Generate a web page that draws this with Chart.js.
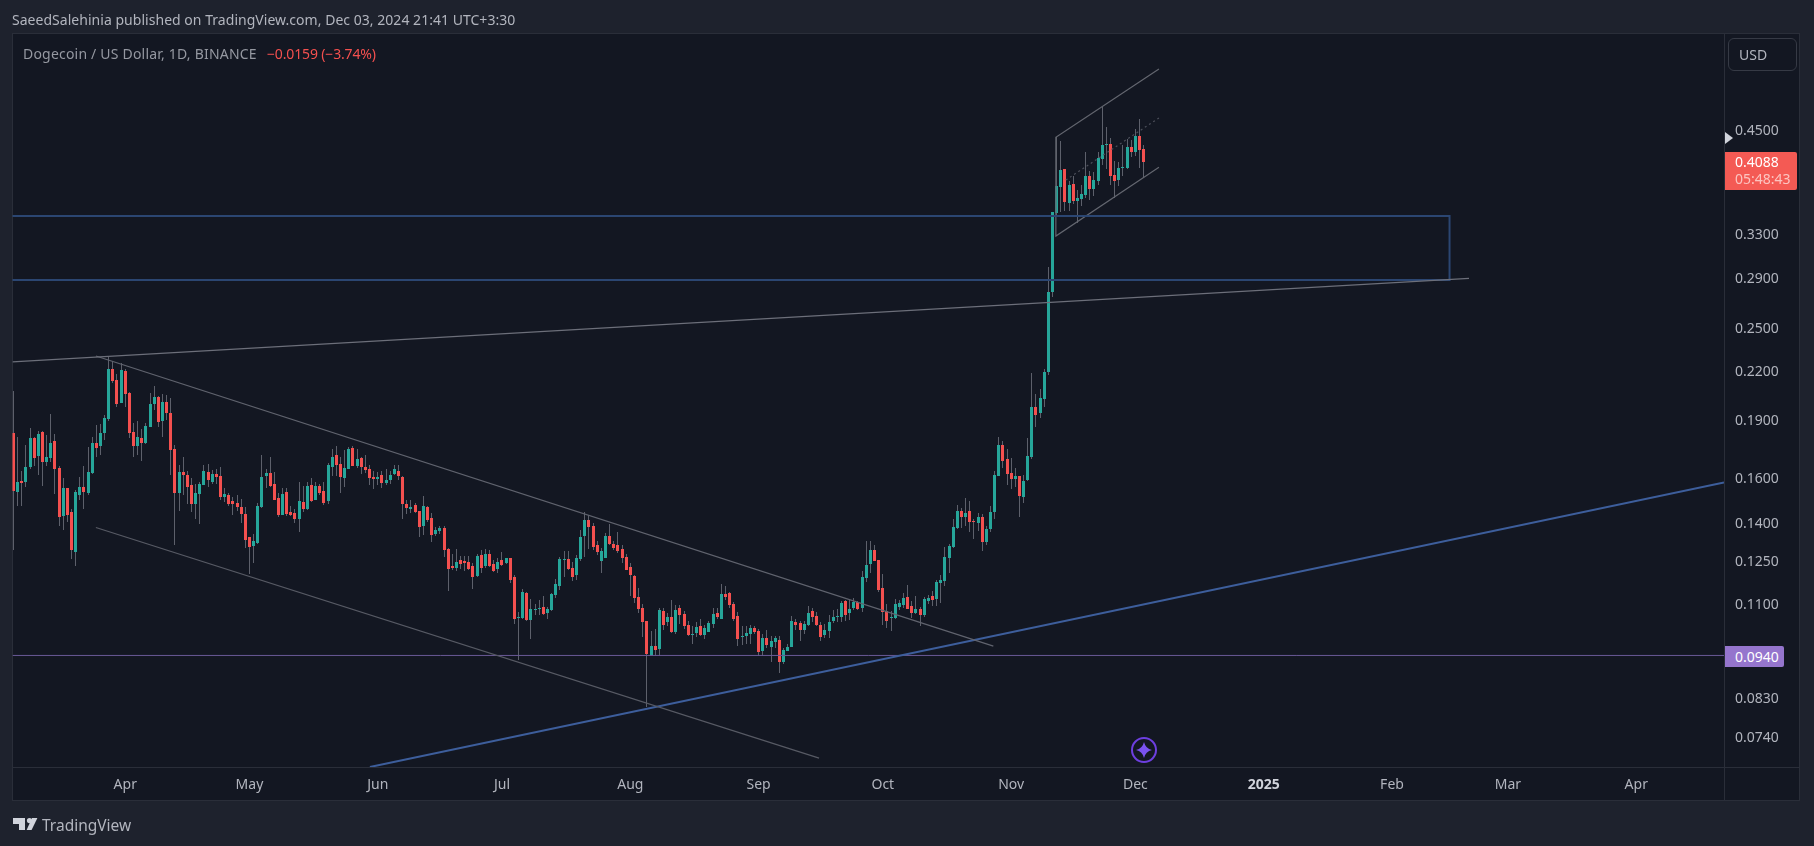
<!DOCTYPE html>
<html><head><meta charset="utf-8">
<script src="https://cdn.jsdelivr.net/npm/chart.js@4"></script>
<style>
html,body{margin:0;padding:0;background:#1e222d;width:1814px;height:846px;overflow:hidden;font-family:"Noto Sans",sans-serif}
.a{position:absolute;white-space:nowrap}
canvas{position:absolute;left:0;top:0}
</style></head><body>
<div class="a" style="left:12px;top:33px;width:1788px;height:768px;background:#131722;box-sizing:border-box;border:1px solid #2a2e39"></div>
<div class="a" style="left:12px;top:767px;width:1788px;height:1px;background:#2a2e39"></div>
<div class="a" style="left:1724px;top:33px;width:1px;height:768px;background:#2a2e39"></div>
<canvas id="c" width="1814" height="846" style="width:1814px;height:846px"></canvas>
<div class="a" style="left:12px;top:10px;font-size:14px;line-height:20px;color:#b2b5be;letter-spacing:.03px">SaeedSalehinia published on TradingView.com, Dec 03, 2024 21:41 UTC+3:30</div>
<div class="a" style="left:23px;top:44px;font-size:14px;line-height:20px;color:#9598a1;letter-spacing:.2px">Dogecoin / US Dollar, 1D, BINANCE</div>
<div class="a" style="left:267px;top:44px;font-size:14px;line-height:20px;color:#f4504f;letter-spacing:-.15px">−0.0159 (−3.74%)</div>
<div class="a" style="left:1728px;top:38px;width:69px;height:33px;box-sizing:border-box;border:1px solid #363a45;border-radius:6px;color:#b2b5be;font-size:14px;line-height:31px;padding-left:10px">USD</div>
<svg class="a" style="left:1725px;top:130px" width="10" height="16"><polygon points="0,2 8,8 0,14" fill="#d1d4dc"/></svg>
<div class="a" style="left:1725px;top:152px;width:72px;height:38px;background:#f45a54;border-radius:0 2px 2px 0"></div>
<div class="a" style="left:1735px;top:153px;font-size:14px;line-height:18px;color:#fff">0.4088</div>
<div class="a" style="left:1735px;top:170px;font-size:14px;line-height:18px;color:#fcc4c0">05:48:43</div>
<div class="a" style="left:1725px;top:646px;width:59px;height:21px;background:#9575cd;border-radius:0 2px 2px 0;color:#fff;font-size:14px;line-height:21px;padding-left:10px;box-sizing:border-box">0.0940</div>
<svg class="a" style="left:1128px;top:734px" width="32" height="32"><circle cx="16" cy="16" r="12" fill="#131722" stroke="#6d3fe0" stroke-width="2"/><path d="M16 8 Q17.5 14.5 24 16 Q17.5 17.5 16 24 Q14.5 17.5 8 16 Q14.5 14.5 16 8Z" fill="#7a52f0"/></svg>
<svg class="a" style="left:12px;top:816px" width="28" height="16"><path d="M1 2H13V14H7V8H1Z" fill="#d1d4dc"/><circle cx="17.5" cy="4.6" r="2.6" fill="#d1d4dc"/><path d="M19.6 14H14.6L20 2H25.4Z" fill="#d1d4dc"/></svg>
<div class="a" style="left:42px;top:814px;font-size:15.5px;line-height:22px;color:#b2b5be">TradingView</div>
<script>
const opens=[.1827,.1534,.1585,.1581,.1653,.1802,.1707,.1834,.1677,.1697,
.1786,.1648,.1428,.1552,.1446,.1283,.1520,.1558,.1529,.1622,
.1775,.1759,.1829,.1905,.2212,.2140,.1999,.2199,.2059,.1834,
.1759,.1802,.1775,.1862,.1993,.2035,.1894,.2005,.1941,.1743,
.1529,.1628,.1614,.1567,.1480,.1525,.1567,.1628,.1581,.1619,
.1609,.1512,.1520,.1494,.1485,.1467,.1437,.1342,.1307,.1318,
.1467,.1609,.1622,.1571,.1507,.1432,.1534,.1446,.1441,.1416,
.1489,.1458,.1567,.1498,.1562,.1538,.1494,.1653,.1712,.1667,
.1600,.1643,.1748,.1658,.1697,.1653,.1643,.1604,.1595,.1614,
.1576,.1590,.1619,.1633,.1604,.1480,.1458,.1476,.1450,.1387,
.1467,.1420,.1354,.1366,.1379,.1295,.1231,.1224,.1253,.1249,
.1246,.1231,.1195,.1272,.1231,.1276,.1239,.1221,.1253,.1242,
.1260,.1192,.1055,.1055,.1136,.1049,.1080,.1083,.1090,.1071,
.1080,.1130,.1159,.1253,.1257,.1224,.1199,.1257,.1346,.1412,
.1387,.1310,.1249,.1260,.1346,.1314,.1310,.1295,.1264,.1228,
.1195,.1123,.1087,.1046,.0942,.0971,.0962,.1077,.1043,.1058,
.1012,.1087,.1068,.1033,.1003,.1009,.1030,.1003,.1012,.1037,
.1071,.1052,.1133,.1136,.1099,.1061,.0997,.1000,.1006,.1024,
.1015,.0956,.0994,.0968,.0982,.0988,.0926,.0956,.0968,.1043,
.1040,.1018,.1033,.1077,.1061,.1033,.1003,.1015,.1046,.1058,
.1058,.1109,.1071,.1087,.1106,.1087,.1188,.1239,.1291,.1253,
.1154,.1077,.1055,.1055,.1090,.1096,.1123,.1093,.1071,.1083,
.1065,.1110,.1126,.1116,.1171,.1178,.1260,.1303,.1379,.1450,
.1425,.1450,.1408,.1399,.1425,.1322,.1375,.1446,.1609,.1764,
.1692,.1622,.1595,.1609,.1512,.1590,.1702,.1975,.1941,.2023,
.2192,.2780,.3516,.3799,.4007,.3623,.3833,.3643,.3664,.3707,
.3925,.3776,.3866,.4128,.4305,.4317,.3936,.3878,.4019,.4019,
.4279,.4215,.4421,.4247];
const closes=[.1538,.1581,.1576,.1653,.1802,.1697,.1823,.1677,.1702,.1775,
.1643,.1425,.1552,.1432,.1291,.1534,.1558,.1534,.1628,.1775,
.1748,.1829,.1911,.2212,.2134,.1993,.2205,.2053,.1829,.1759,
.1807,.1775,.1867,.1993,.2035,.1889,.2005,.1941,.1738,.1529,
.1628,.1614,.1558,.1480,.1529,.1571,.1633,.1590,.1619,.1604,
.1512,.1525,.1480,.1480,.1467,.1437,.1330,.1303,.1326,.1471,
.1604,.1622,.1562,.1498,.1432,.1525,.1437,.1432,.1416,.1494,
.1458,.1562,.1494,.1562,.1529,.1485,.1662,.1702,.1662,.1604,
.1648,.1743,.1658,.1692,.1653,.1638,.1600,.1595,.1604,.1576,
.1590,.1614,.1643,.1609,.1480,.1463,.1467,.1446,.1383,.1471,
.1412,.1350,.1370,.1379,.1291,.1221,.1224,.1246,.1239,.1242,
.1221,.1192,.1268,.1224,.1276,.1231,.1213,.1246,.1235,.1260,
.1181,.1052,.1058,.1140,.1049,.1083,.1083,.1087,.1068,.1083,
.1133,.1167,.1257,.1257,.1221,.1192,.1260,.1342,.1412,.1383,
.1303,.1283,.1287,.1346,.1314,.1299,.1287,.1260,.1217,.1199,
.1120,.1083,.1043,.0948,.0971,.0959,.1080,.1033,.1058,.1012,
.1080,.1065,.1030,.1003,.1006,.1027,.1003,.1024,.1040,.1068,
.1058,.1133,.1123,.1096,.1052,.0991,.1000,.1009,.1024,.1012,
.0953,.0994,.0974,.0985,.0994,.0926,.0959,.0968,.1046,.1033,
.1018,.1037,.1071,.1058,.1033,.0997,.1018,.1043,.1058,.1061,
.1103,.1065,.1083,.1106,.1083,.1192,.1235,.1291,.1249,.1147,
.1074,.1046,.1058,.1100,.1103,.1120,.1083,.1071,.1083,.1065,
.1116,.1120,.1113,.1174,.1181,.1264,.1307,.1383,.1450,.1425,
.1441,.1403,.1403,.1425,.1322,.1375,.1446,.1614,.1764,.1682,
.1619,.1595,.1609,.1516,.1585,.1707,.1975,.1929,.2029,.2192,
.2780,.3526,.3810,.3995,.3633,.3821,.3643,.3675,.3718,.3925,
.3776,.3878,.4141,.4305,.4317,.3925,.3866,.4019,.4031,.4279,
.4215,.4421,.4240,.4088];
const highs=[.2071,.1807,.1633,.1764,.1856,.1807,.1840,.1840,.1818,.1935,
.1823,.1658,.1600,.1552,.1458,.1543,.1604,.1658,.1755,.1807,
.1872,.1877,.1929,.2288,.2264,.2179,.2251,.2212,.2065,.1883,
.1894,.1851,.1883,.2059,.2103,.2041,.2053,.2047,.2029,.1764,
.1662,.1702,.1633,.1600,.1571,.1581,.1662,.1667,.1638,.1643,
.1653,.1552,.1529,.1512,.1520,.1503,.1467,.1342,.1354,.1485,
.1712,.1643,.1702,.1628,.1529,.1552,.1552,.1471,.1458,.1581,
.1562,.1581,.1600,.1581,.1571,.1581,.1672,.1743,.1759,.1702,
.1738,.1754,.1759,.1743,.1702,.1712,.1662,.1633,.1628,.1633,
.1643,.1633,.1662,.1662,.1609,.1498,.1498,.1485,.1450,.1516,
.1471,.1441,.1383,.1387,.1387,.1299,.1276,.1295,.1268,.1268,
.1268,.1242,.1276,.1291,.1295,.1291,.1253,.1260,.1283,.1260,
.1260,.1199,.1074,.1150,.1140,.1116,.1099,.1113,.1126,.1090,
.1136,.1185,.1264,.1287,.1287,.1246,.1272,.1370,.1446,.1433,
.1400,.1326,.1299,.1358,.1395,.1326,.1362,.1310,.1276,.1242,
.1199,.1154,.1099,.1046,.1014,.1020,.1087,.1087,.1071,.1113,
.1096,.1096,.1077,.1046,.1030,.1043,.1052,.1033,.1046,.1087,
.1087,.1167,.1159,.1140,.1106,.1074,.1030,.1030,.1033,.1030,
.1021,.1006,.1018,.1000,.1000,.1000,.0965,.0976,.1061,.1052,
.1046,.1046,.1093,.1087,.1074,.1043,.1037,.1065,.1080,.1083,
.1109,.1113,.1113,.1120,.1109,.1213,.1326,.1326,.1310,.1253,
.1203,.1100,.1077,.1116,.1113,.1136,.1164,.1110,.1126,.1090,
.1123,.1130,.1143,.1181,.1199,.1303,.1314,.1416,.1476,.1463,
.1507,.1494,.1416,.1441,.1437,.1387,.1471,.1633,.1807,.1786,
.1743,.1697,.1648,.1609,.1614,.1802,.2186,.2053,.2083,.2212,
.2995,.3526,.4404,.4356,.4007,.3866,.3925,.3765,.3821,.4216,
.3983,.3971,.4216,.4819,.4541,.4395,.4104,.4092,.4305,.4382,
.4369,.4513,.4650,.4305];
const lows=[.1291,.1471,.1471,.1558,.1643,.1658,.1614,.1562,.1658,.1677,
.1525,.1387,.1370,.1403,.1257,.1231,.1498,.1458,.1520,.1617,
.1702,.1712,.1791,.1895,.2121,.1975,.1999,.1975,.1802,.1702,
.1712,.1682,.1770,.1862,.1958,.1862,.1807,.1900,.1614,.1310,
.1450,.1520,.1480,.1446,.1416,.1395,.1567,.1558,.1571,.1571,
.1498,.1489,.1471,.1432,.1450,.1399,.1299,.1203,.1242,.1314,
.1463,.1552,.1558,.1498,.1425,.1432,.1428,.1428,.1399,.1362,
.1446,.1454,.1489,.1498,.1520,.1476,.1480,.1609,.1609,.1529,
.1558,.1643,.1658,.1648,.1619,.1622,.1567,.1548,.1567,.1552,
.1567,.1571,.1614,.1590,.1416,.1437,.1441,.1441,.1342,.1350,
.1403,.1322,.1346,.1354,.1264,.1144,.1217,.1213,.1221,.1213,
.1217,.1150,.1192,.1206,.1224,.1228,.1210,.1206,.1231,.1239,
.1171,.1037,.0931,.1052,.1046,.0991,.1065,.1065,.1065,.1052,
.1077,.1120,.1147,.1192,.1217,.1178,.1181,.1249,.1264,.1295,
.1291,.1272,.1206,.1260,.1310,.1291,.1279,.1242,.1217,.1126,
.1103,.1071,.0997,.0810,.0942,.0942,.0942,.1018,.1030,.1009,
.1006,.1037,.1021,.1000,.0976,.0997,.1000,.0991,.1012,.1024,
.1052,.1052,.1113,.1087,.1046,.0971,.0974,.0976,.0976,.1006,
.0942,.0942,.0965,.0926,.0965,.0896,.0920,.0956,.0968,.1018,
.0985,.1006,.1030,.1043,.1030,.0985,.0994,.0994,.1040,.1043,
.1043,.1046,.1049,.1080,.1080,.1074,.1174,.1206,.1249,.1140,
.1034,.1024,.1015,.1052,.1080,.1087,.1083,.1055,.1068,.1030,
.1058,.1100,.1093,.1093,.1103,.1161,.1206,.1299,.1375,.1379,
.1387,.1362,.1334,.1366,.1287,.1310,.1362,.1416,.1609,.1648,
.1567,.1548,.1558,.1425,.1485,.1585,.1692,.1862,.1911,.1975,
.2172,.2740,.3478,.3527,.3537,.3537,.3612,.3408,.3590,.3675,
.3654,.3697,.3821,.4055,.4007,.3821,.3675,.3810,.3925,.4007,
.4153,.4165,.4019,.3900];

const priceTicks=[0.45,0.33,0.29,0.25,0.22,0.19,0.16,0.14,0.125,0.11,0.083,0.074];
const monthIndex=[27,57,88,118,149,180,210,241,271,302,333,361,392];
const monthLabels=["Apr","May","Jun","Jul","Aug","Sep","Oct","Nov","Dec","2025","Feb","Mar","Apr"];
const xRange=[-0.24,413.2];
const yRange=[0.0677,0.6004];

// Drawings, as [day index, price] pairs
const resistanceLine=[[-0.24,.2258],[351.6,.2895]];
const channelUpper=[[19.9,.2298],[236.7,.0970]];
const channelLower=[[19.9,.1380],[194.6,.0695]];
const blueTrend=[[86.1,.0677],[413.2,.1578]];
const supportLine=[[-0.24,.09433],[413.2,.09433]];
const zoneBox=[[-5,.3485],[346.9,.3485],[346.9,.2881],[-5,.2881]];
const flagOutline=[[276.7,.5395],[251.8,.4404],[251.8,.3283],[276.7,.4028]];
const flagMiddle=[[254.2,.3878],[276.7,.4663]];

const UP="#26a69a",DOWN="#f4504f",WICK="#5d606b";
const days=opens.map((_,i)=>i);
const colors=days.map(i=>closes[i]>=opens[i]?UP:DOWN);
const pts=a=>a.map(p=>({x:p[0],y:p[1]}));
const line=(a,color,w,extra)=>Object.assign({type:"line",data:pts(a),borderColor:color,borderWidth:w,pointRadius:0,tension:0,fill:false,order:0},extra||{});

// Snap the library's computed candle rectangles to whole device pixels, as the source chart does
const crispBars={id:"crispBars",afterDatasetsUpdate(chart){
  chart.getSortedVisibleDatasetMetas().forEach(m=>{
    if(m.type!=="bar")return;
    m.data.forEach(el=>{
      el.x=Math.floor(el.x)+.5;
      el.y=Math.round(el.y);
      el.base=Math.round(el.base);
    });
  });
}};

new Chart(document.getElementById("c"),{
  type:"bar",
  plugins:[crispBars],
  data:{datasets:[
    line(resistanceLine,"#6c6f7a",1.2),
    line(channelUpper,"#60636e",1.2),
    line(channelLower,"#575a64",1.2),
    line(blueTrend,"#3d5e9c",2),
    line(supportLine,"#6a5a96",1),
    line(zoneBox,"#2b4672",2,{borderJoinStyle:"miter"}),
    line(flagOutline,"#63666f",1.2),
    line(flagMiddle,"#4c4f5a",1.2,{borderDash:[2,3]}),
    {label:"body",data:days.map(i=>({x:i,y:[opens[i],closes[i]]})),backgroundColor:colors,grouped:false,barPercentage:1,categoryPercentage:1,maxBarThickness:3,minBarLength:1,borderWidth:0,inflateAmount:0,order:1},
    {label:"wick",data:days.map(i=>({x:i,y:[lows[i],highs[i]]})),backgroundColor:WICK,grouped:false,barPercentage:1,categoryPercentage:1,maxBarThickness:1,borderWidth:0,inflateAmount:0,order:2}
  ]},
  options:{
    responsive:false,animation:false,devicePixelRatio:1,
    layout:{padding:{left:12.5,top:33,right:14,bottom:45}},
    plugins:{legend:{display:false},tooltip:{enabled:false}},
    scales:{
      x:{type:"linear",offset:false,bounds:"data",min:xRange[0],max:xRange[1],
        grid:{display:false,drawTicks:false},border:{display:false},
        afterBuildTicks:ax=>{ax.ticks=monthIndex.map(v=>({value:v}));},
        afterFit:ax=>{ax.height=34;},
        ticks:{autoSkip:false,maxRotation:0,padding:10,
          callback:(v)=>monthLabels[monthIndex.indexOf(v)],
          color:c=>c.index===9?"#d1d4dc":"#b2b5be",
          font:c=>({family:'"Noto Sans"',size:14,weight:c.index===9?"bold":"normal"})}},
      y:{type:"logarithmic",position:"right",min:yRange[0],max:yRange[1],
        grid:{display:false,drawTicks:false},border:{display:false},
        afterBuildTicks:ax=>{ax.ticks=priceTicks.map(v=>({value:v}));},
        afterFit:ax=>{ax.width=76;},
        ticks:{autoSkip:false,padding:11,labelOffset:1,crossAlign:"near",color:"#b2b5be",
          callback:v=>Number(v).toFixed(4),
          font:{family:'"Noto Sans"',size:14}}}
    }
  }
});
</script>
</body></html>
